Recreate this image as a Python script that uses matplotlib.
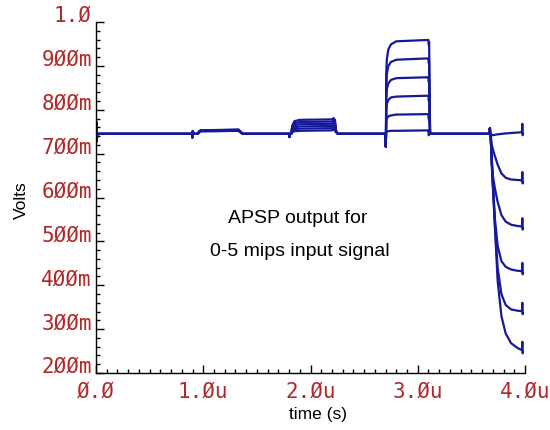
import matplotlib.pyplot as plt
from matplotlib.ticker import MultipleLocator

# time in microseconds, APSP output in volts, one list per trace (0..5 mips)

# start-up glitch and the small glitch at 0.9u (same for every trace)
t_lead = [0.0, 0.003, 0.006, 0.012, 0.895, 0.898, 0.902, 0.91]
v_lead = [0.745, 0.772, 0.728, 0.745, 0.745, 0.737, 0.751, 0.745]

# small pulse around 1u
t_p1 = [0.95, 0.96, 0.975, 1.33, 1.345, 1.37]
v_p1 = [
    [0.745, 0.749, 0.751, 0.752, 0.749, 0.745],
    [0.745, 0.749, 0.751, 0.752, 0.749, 0.745],
    [0.745, 0.749, 0.752, 0.753, 0.750, 0.745],
    [0.745, 0.750, 0.752, 0.753, 0.750, 0.745],
    [0.745, 0.750, 0.753, 0.754, 0.750, 0.745],
    [0.745, 0.750, 0.753, 0.755, 0.751, 0.745],
]

# second pulse around 2u
t_p2 = [1.80, 1.803, 1.807, 1.82, 1.83, 1.85, 1.90, 2.20, 2.215, 2.228, 2.24, 2.256]
v_p2 = [
    [0.745, 0.738, 0.745, 0.745, 0.749, 0.751, 0.752, 0.753, 0.756, 0.752, 0.749, 0.745],
    [0.745, 0.738, 0.745, 0.745, 0.752, 0.756, 0.757, 0.758, 0.761, 0.757, 0.749, 0.745],
    [0.745, 0.738, 0.745, 0.745, 0.755, 0.760, 0.762, 0.763, 0.766, 0.762, 0.749, 0.745],
    [0.745, 0.738, 0.745, 0.745, 0.758, 0.765, 0.767, 0.768, 0.771, 0.767, 0.749, 0.745],
    [0.745, 0.738, 0.745, 0.745, 0.761, 0.769, 0.772, 0.773, 0.776, 0.772, 0.749, 0.745],
    [0.745, 0.738, 0.745, 0.745, 0.764, 0.774, 0.777, 0.778, 0.781, 0.777, 0.749, 0.745],
]

# positive pulse around 3u
t_p3 = [2.700, 2.702, 2.704, 2.706, 2.712, 2.725, 2.75, 2.80, 3.09, 3.100, 3.103, 3.106, 3.115]
v_p3 = [
    [0.745, 0.716, 0.745, 0.750, 0.751, 0.751, 0.752, 0.752, 0.753, 0.753, 0.742, 0.748, 0.745],
    [0.745, 0.716, 0.745, 0.774, 0.780, 0.785, 0.787, 0.789, 0.790, 0.790, 0.779, 0.785, 0.745],
    [0.745, 0.716, 0.745, 0.801, 0.814, 0.822, 0.828, 0.830, 0.832, 0.832, 0.821, 0.827, 0.745],
    [0.745, 0.716, 0.745, 0.828, 0.847, 0.860, 0.868, 0.872, 0.874, 0.874, 0.863, 0.869, 0.745],
    [0.745, 0.716, 0.745, 0.856, 0.882, 0.899, 0.909, 0.914, 0.917, 0.917, 0.906, 0.912, 0.745],
    [0.745, 0.716, 0.745, 0.883, 0.915, 0.937, 0.949, 0.956, 0.959, 0.959, 0.948, 0.954, 0.745],
]

# negative pulse at the end
t_p4 = [3.670, 3.673, 3.676, 3.679, 3.69, 3.70, 3.72, 3.745, 3.78, 3.82, 3.87, 3.93,
        3.972, 3.975, 3.978, 3.981]
v_p4 = [
    [0.745, 0.758, 0.740, 0.745, 0.742, 0.742, 0.743, 0.744, 0.745, 0.746, 0.747, 0.748,
     0.749, 0.768, 0.742, 0.745],
    [0.745, 0.758, 0.740, 0.745, 0.720, 0.710, 0.694, 0.675, 0.655, 0.645, 0.641, 0.640,
     0.639, 0.658, 0.632, 0.635],
    [0.745, 0.758, 0.740, 0.745, 0.690, 0.650, 0.620, 0.590, 0.560, 0.545, 0.538, 0.535,
     0.534, 0.553, 0.527, 0.530],
    [0.745, 0.758, 0.740, 0.745, 0.680, 0.635, 0.550, 0.490, 0.455, 0.442, 0.436, 0.433,
     0.432, 0.451, 0.425, 0.428],
    [0.745, 0.758, 0.740, 0.745, 0.680, 0.630, 0.535, 0.440, 0.380, 0.355, 0.345, 0.342,
     0.341, 0.360, 0.334, 0.337],
    [0.745, 0.758, 0.740, 0.745, 0.680, 0.630, 0.530, 0.410, 0.330, 0.290, 0.268, 0.257,
     0.252, 0.271, 0.245, 0.248],
]

x_ticks = [0, 1, 2, 3, 4]
x_labels = ['Ø.Ø', '1.Øu', '2.Øu', '3.Øu', '4.Øu']
y_ticks = [0.2, 0.3, 0.4, 0.5, 0.6, 0.7, 0.8, 0.9, 1.0]
y_labels = ['2ØØm', '3ØØm', '4ØØm', '5ØØm', '6ØØm', '7ØØm', '8ØØm', '9ØØm', '1.Ø']

LINE = '#16199a'
TICKC = '#b0282a'

fig = plt.figure(figsize=(5.5, 4.3), dpi=100)
ax = fig.add_axes([96 / 550, 1 - 373 / 430, 429 / 550, 351 / 430])

for i in range(6):
    t = t_lead + t_p1 + t_p2 + t_p3 + t_p4
    v = v_lead + v_p1[i] + v_p2[i] + v_p3[i] + v_p4[i]
    ax.plot(t, v, color=LINE, lw=1.6, solid_joinstyle='round')

ax.set_xlim(0, 4)
ax.set_ylim(0.2, 1.0)
for s in ['top', 'right']:
    ax.spines[s].set_visible(False)
ax.spines['left'].set_linewidth(1.0)
ax.spines['bottom'].set_linewidth(1.0)

ax.set_xticks(x_ticks, labels=x_labels)
ax.set_yticks(y_ticks, labels=y_labels)
ax.xaxis.set_minor_locator(MultipleLocator(0.1))
ax.yaxis.set_minor_locator(MultipleLocator(0.02))
ax.tick_params(which='both', direction='in', color='black', width=1.0)
ax.tick_params(which='major', length=6)
ax.tick_params(which='minor', length=3)
ax.tick_params(axis='y', pad=3)
ax.tick_params(axis='x', pad=6)
for lbl in ax.get_xticklabels() + ax.get_yticklabels():
    lbl.set_color(TICKC)
    lbl.set_fontfamily('DejaVu Sans Mono')
    lbl.set_fontsize(15)
for lbl in ax.get_yticklabels():
    lbl.set_va('baseline')

ax.set_xlabel('time (s)', family='Liberation Sans', fontsize=12.5)
ax.set_ylabel('Volts', family='Liberation Sans', fontsize=12.5)
ax.xaxis.set_label_coords(0.517, -0.097)
ax.yaxis.set_label_coords(-0.156, 0.493)

ax.text(1.88, 0.553, 'APSP output for', family='Liberation Sans', fontsize=14,
        ha='center', va='center')
ax.text(1.9, 0.478, '0-5 mips input signal', family='Liberation Sans', fontsize=14,
        ha='center', va='center')

fig.savefig('out.png', dpi=100)
